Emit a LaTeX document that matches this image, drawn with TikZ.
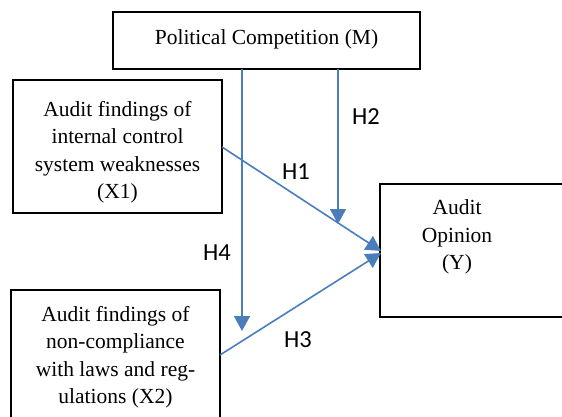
\documentclass[tikz,border=0pt]{standalone}
\usepackage{fontspec}
\setmainfont{Liberation Serif}
\newfontfamily\lblfont{Carlito}
\usetikzlibrary{arrows.meta}
\definecolor{arrowblue}{HTML}{4A7EBB}
\begin{document}
\begin{tikzpicture}[x=1pt,y=-1pt,
  boxstyle/.style={draw=black,line width=1.8pt,inner sep=0pt},
  boxtext/.style={font=\fontsize{21.5}{27.5}\selectfont,align=center},
  conn/.style={draw=arrowblue,line width=1.6pt,-{Triangle[width=16pt,length=15pt]}},
  hlabel/.style={font=\lblfont\fontsize{24.5}{26}\selectfont}]
\useasboundingbox (0,0) rectangle (562,416);
% boxes
\draw[boxstyle] (113,12) rectangle (420,69);
\node[boxtext] (M) at (266.5,39) {Political Competition (M)};
\draw[boxstyle] (13,80) rectangle (222,213);
\node[boxtext] (X1) at (117.5,152) {Audit findings of\\internal control\\system weaknesses\\(X1)};
\draw[boxstyle] (11,290) rectangle (220,430);
\node[boxtext] (X2) at (115.5,357) {Audit findings of\\non-compliance\\with laws and reg-\\ulations (X2)};
\draw[boxstyle] (380,184) rectangle (570,317);
\node[boxtext] (Y) at (457,237) {Audit\\Opinion\\(Y)};
% connector anchors
\coordinate (m4) at (242,69);
\coordinate (t4) at (242,331);
\coordinate (m2) at (338,69);
\coordinate (t2) at (338,224);
\coordinate (x1r) at (222,147);
\coordinate (x2r) at (220,355);
\coordinate (yl1) at (381,251);
\coordinate (yl2) at (381,253);
\draw[conn] (m4) -- (t4);
\draw[conn] (m2) -- (t2);
\draw[conn] (x1r) -- (yl1);
\draw[conn] (x2r) -- (yl2);
% labels
\node[hlabel] (H2) at (366,117) {H2};
\node[hlabel] (H1) at (296,172) {H1};
\node[hlabel] (H4) at (217,253) {H4};
\node[hlabel] (H3) at (298,340) {H3};
\end{tikzpicture}
\end{document}
